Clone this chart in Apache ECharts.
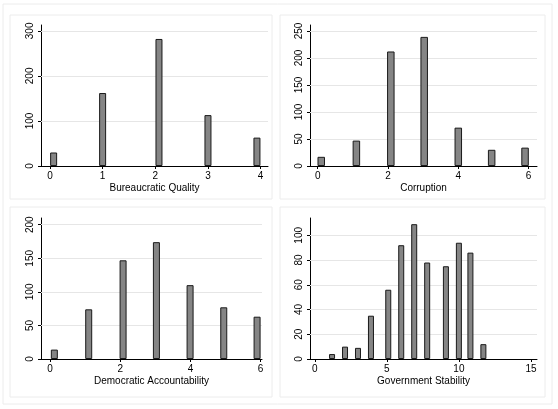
<!DOCTYPE html>
<html>
<head>
<meta charset="utf-8">
<script src="https://cdn.jsdelivr.net/npm/echarts@6/dist/echarts.min.js"></script>
<style>
  html, body { margin: 0; padding: 0; background: #fff; }
  #chart { width: 558px; height: 409px; }
</style>
</head>
<body>
<div id="chart"></div>
<script>
// bar centres (bin midpoints) and counts
var bqX = [0.07, 1.0, 2.07, 3.0, 3.93];
var bqY = [30, 162, 282, 113, 63];
var corrX = [0.1, 1.1, 2.08, 3.03, 4.0, 4.95, 5.9];
var corrY = [17, 47, 212, 239, 71, 30, 34];
var demX = [0.12, 1.1, 2.08, 3.03, 3.99, 4.95, 5.9];
var demY = [14, 74, 147, 174, 110, 77, 63];
var govX = [1.2, 2.1, 3.0, 3.9, 5.1, 6.0, 6.9, 7.8, 9.1, 10.0, 10.8, 11.7];
var govY = [4, 10, 9, 35, 56, 92, 109, 78, 75, 94, 86, 12];

// tick labels
var bqXTicks = [0, 1, 2, 3, 4];
var bqYTicks = [0, 100, 200, 300];
var corrXTicks = [0, 2, 4, 6];
var corrYTicks = [0, 50, 100, 150, 200, 250];
var demXTicks = [0, 2, 4, 6];
var demYTicks = [0, 50, 100, 150, 200];
var govXTicks = [0, 5, 10, 15];
var govYTicks = [0, 20, 40, 60, 80, 100];

var titles = ['Bureaucratic Quality', 'Corruption', 'Democratic Accountability', 'Government Stability'];

var font = 'Liberation Sans, Arial, Helvetica, sans-serif';

var panels = [
    {x: bqX, y: bqY, xt: bqXTicks, yt: bqYTicks, xr: [-0.17, 4.14], yr: [0, 313], bw: 7,
        grid: {left: 41, right: 290, top: 25, bottom: 243}},
    {x: corrX, y: corrY, xt: corrXTicks, yt: corrYTicks, xr: [-0.22, 6.24], yr: [0, 261], bw: 7.5,
        grid: {left: 310, right: 21, top: 25, bottom: 243}},
    {x: demX, y: demY, xt: demXTicks, yt: demYTicks, xr: [-0.26, 6.04], yr: [0, 210], bw: 7,
        grid: {left: 41, right: 296, top: 218, bottom: 50}},
    {x: govX, y: govY, xt: govXTicks, yt: govYTicks, xr: [-0.33, 15.42], yr: [0, 114], bw: 6,
        grid: {left: 310, right: 21, top: 218, bottom: 50}}
];

var myEcharts = echarts.init(document.getElementById('chart'), null, {renderer: 'canvas'});

var grids = [], xAxes = [], yAxes = [], series = [];
panels.forEach(function (p, i) {
    grids.push(p.grid);
    xAxes.push({
        type: 'value', gridIndex: i, min: p.xr[0], max: p.xr[1],
        name: titles[i], nameLocation: 'middle', nameGap: 17,
        nameTextStyle: {fontFamily: font, fontSize: 10, color: '#000'},
        axisLine: {show: true, onZero: false, lineStyle: {color: '#000', width: 1}},
        axisTick: {show: true, length: 3, customValues: p.xt, lineStyle: {color: '#000'}},
        axisLabel: {customValues: p.xt, margin: 5, fontFamily: font, fontSize: 10, color: '#000'},
        splitLine: {show: false}
    });
    yAxes.push({
        type: 'value', gridIndex: i, min: p.yr[0], max: p.yr[1],
        axisLine: {show: true, onZero: false, lineStyle: {color: '#000', width: 1}},
        axisTick: {show: true, length: 3, customValues: p.yt, lineStyle: {color: '#000'}},
        axisLabel: {customValues: p.yt, rotate: 90, margin: 6, fontFamily: font, fontSize: 10, color: '#000'},
        splitLine: {show: false}
    });
    // light horizontal gridlines, drawn beneath the bars
    series.push({
        type: 'line', xAxisIndex: i, yAxisIndex: i, data: [], z: 1,
        markLine: {
            silent: true, symbol: 'none', label: {show: false},
            lineStyle: {color: '#e6e6e6', type: 'solid', width: 1},
            data: p.yt.filter(function (t) { return t > 0; }).map(function (t) { return {yAxis: t}; })
        }
    });
    series.push({
        type: 'bar', xAxisIndex: i, yAxisIndex: i,
        barWidth: p.bw,
        data: p.x.map(function (v, k) { return [v, p.y[k]]; }),
        itemStyle: {color: '#858585', borderColor: '#1a1a1a', borderWidth: 1},
        z: 5
    });
});

myEcharts.setOption({
    animation: false,
    backgroundColor: '#fff',
    graphic: [
        {type: 'rect', shape: {x: 3, y: 4, width: 549, height: 400}, style: {fill: 'none', stroke: '#ececec', lineWidth: 1}, z: -1},
        {type: 'rect', shape: {x: 10, y: 15, width: 262, height: 184}, style: {fill: 'none', stroke: '#ececec', lineWidth: 1}, z: -1},
        {type: 'rect', shape: {x: 280, y: 15, width: 265, height: 184}, style: {fill: 'none', stroke: '#ececec', lineWidth: 1}, z: -1},
        {type: 'rect', shape: {x: 10, y: 207, width: 262, height: 190}, style: {fill: 'none', stroke: '#ececec', lineWidth: 1}, z: -1},
        {type: 'rect', shape: {x: 280, y: 207, width: 265, height: 190}, style: {fill: 'none', stroke: '#ececec', lineWidth: 1}, z: -1}
    ],
    grid: grids,
    xAxis: xAxes,
    yAxis: yAxes,
    series: series
});
</script>
</body>
</html>
